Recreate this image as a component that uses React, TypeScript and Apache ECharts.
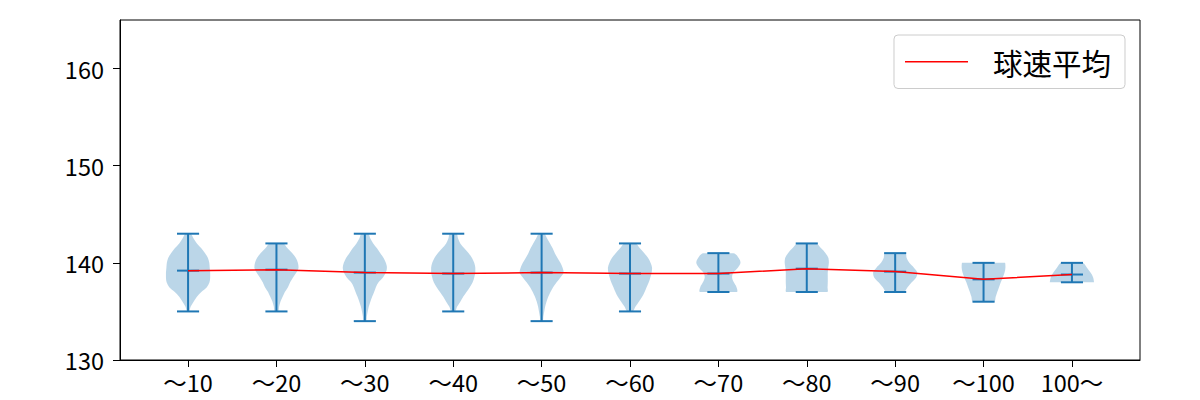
import React, { useEffect, useRef } from "react";
import * as echarts from "echarts";

const categories = ["～10", "～20", "～30", "～40", "～50", "～60", "～70", "～80", "～90", "～100", "100～"];
const means = [139.2, 139.3, 139.0, 138.9, 139.0, 138.9, 138.9, 139.4, 139.1, 138.3, 138.8];
const mins = [135, 135, 134, 135, 134, 135, 137, 137, 137, 136, 138];
const maxs = [143, 142, 143, 143, 143, 142, 141, 142, 141, 140, 140];
const yTicks = [130, 140, 150, 160];
const levelStep = 0.5;
// relative violin widths, from min to max in 0.5 km/h steps
const dens1 = [0.05, 0.12, 0.25, 0.4, 0.6, 0.85, 0.97, 1.0, 1.0, 0.98, 0.96, 0.9, 0.77, 0.6, 0.4, 0.25, 0.12];
const dens2 = [0.08, 0.12, 0.18, 0.28, 0.38, 0.52, 0.62, 0.75, 0.9, 1.0, 0.97, 0.88, 0.72, 0.5, 0.3];
const dens3 = [0.06, 0.09, 0.13, 0.18, 0.25, 0.33, 0.42, 0.5, 0.62, 0.82, 0.95, 1.0, 0.95, 0.85, 0.7, 0.55, 0.38, 0.25, 0.15];
const dens4 = [0.08, 0.18, 0.32, 0.45, 0.6, 0.75, 0.88, 0.95, 1.0, 1.0, 0.95, 0.85, 0.7, 0.5, 0.32, 0.22, 0.15];
const dens5 = [0.05, 0.08, 0.12, 0.16, 0.22, 0.3, 0.4, 0.52, 0.68, 0.85, 1.0, 0.95, 0.85, 0.72, 0.6, 0.5, 0.38, 0.25, 0.12];
const dens6 = [0.12, 0.25, 0.4, 0.55, 0.66, 0.75, 0.85, 0.92, 0.98, 1.0, 0.93, 0.82, 0.65, 0.45, 0.25];
const dens7 = [0.83, 0.82, 0.7, 0.62, 0.68, 0.88, 1.0, 0.92, 0.68];
const dens8 = [0.92, 0.94, 0.95, 0.95, 0.95, 0.97, 1.0, 0.98, 0.85, 0.65, 0.42];
const dens9 = [0.38, 0.56, 0.75, 0.95, 1.0, 0.85, 0.64, 0.52, 0.46];
const dens10 = [0.48, 0.55, 0.62, 0.7, 0.78, 0.87, 0.95, 0.99, 0.97];
const dens11 = [1.0, 0.96, 0.84, 0.68, 0.48];
const densities = [dens1, dens2, dens3, dens4, dens5, dens6, dens7, dens8, dens9, dens10, dens11];

const FONT = "'Noto Sans CJK JP', 'Noto Sans', sans-serif";
const BLUE = "#1f77b4";

export default function App() {
  const ref = useRef<HTMLDivElement>(null);
  useEffect(() => {
    document.body.style.margin = "0";
    if (!ref.current) return;
    const chart = echarts.init(ref.current, undefined, { renderer: "svg" });
    const positions = categories.map((_, i) => i + 1);
    const violinData = categories.map((_, i) => [i + 1, means[i]]);
    const option: any = {
      animation: false,
      textStyle: { fontFamily: FONT },
      grid: {
        left: 120,
        right: 60,
        top: 20,
        bottom: 40,
        show: true,
        borderColor: "#000",
        borderWidth: 1,
        backgroundColor: "transparent",
      },
      legend: {
        right: 75,
        top: 35,
        data: ["球速平均"],
        icon: "rect",
        itemWidth: 63,
        itemHeight: 1.5,
        padding: [12, 14, 12, 11],
        borderColor: "#cccccc",
        borderWidth: 1,
        borderRadius: 4,
        backgroundColor: "#fff",
        textStyle: { fontSize: 29.5, color: "#000", fontFamily: FONT, padding: [0, 0, 0, 20] },
      },
      xAxis: {
        type: "value",
        min: 0.23,
        max: 11.77,
        axisLine: { show: true, onZero: false, lineStyle: { color: "#000", width: 1 } },
        axisTick: { show: true, length: 7, customValues: positions, lineStyle: { color: "#000" } },
        axisLabel: {
          customValues: positions,
          formatter: (v: number) => categories[Math.round(v) - 1] ?? "",
          color: "#000",
          fontSize: 23.5,
          fontFamily: FONT,
          margin: 10,
        },
        splitLine: { show: false },
      },
      yAxis: {
        type: "value",
        min: 130,
        max: 165,
        axisLine: { show: true, lineStyle: { color: "#000", width: 1 } },
        axisTick: { show: true, length: 7, customValues: yTicks, lineStyle: { color: "#000" } },
        axisLabel: {
          customValues: yTicks,
          color: "#000",
          fontSize: 23.5,
          fontFamily: FONT,
          margin: 16,
        },
        splitLine: { show: false },
      },
      series: [
        {
          type: "custom",
          name: "violin",
          z: 2,
          data: violinData,
          encode: { x: 0, y: 1 },
          renderItem: (params: any, api: any) => {
            const i = params.dataIndex;
            const c = i + 1;
            const lo = mins[i];
            const hi = maxs[i];
            const dens = densities[i];
            const left: number[][] = [];
            const right: number[][] = [];
            dens.forEach((w, k) => {
              const v = lo + k * levelStep;
              left.push(api.coord([c - w * 0.25, v]));
              right.push(api.coord([c + w * 0.25, v]));
            });
            const pts = left.concat(right.slice().reverse());
            let minX = Infinity, minY = Infinity, maxX = -Infinity, maxY = -Infinity;
            pts.forEach((p) => {
              minX = Math.min(minX, p[0]);
              maxX = Math.max(maxX, p[0]);
              minY = Math.min(minY, p[1]);
              maxY = Math.max(maxY, p[1]);
            });
            const top = api.coord([c, hi]);
            const bot = api.coord([c, lo]);
            const mid = api.coord([c, means[i]]);
            const half = api.size([0.125, 0])[0];
            const ls = { stroke: BLUE, lineWidth: 2 };
            return {
              type: "group",
              children: [
                {
                  type: "polygon",
                  shape: {
                    points: pts,
                    smooth: 0.35,
                    smoothConstraint: [
                      [minX, minY],
                      [maxX, maxY],
                    ],
                  },
                  style: { fill: "rgba(31,119,180,0.3)" },
                },
                { type: "line", shape: { x1: top[0], y1: top[1], x2: bot[0], y2: bot[1] }, style: ls },
                { type: "line", shape: { x1: top[0] - half, y1: top[1], x2: top[0] + half, y2: top[1] }, style: ls },
                { type: "line", shape: { x1: bot[0] - half, y1: bot[1], x2: bot[0] + half, y2: bot[1] }, style: ls },
                { type: "line", shape: { x1: mid[0] - half, y1: mid[1], x2: mid[0] + half, y2: mid[1] }, style: ls },
              ],
            };
          },
        },
        {
          type: "line",
          name: "球速平均",
          z: 3,
          data: violinData,
          symbol: "none",
          lineStyle: { color: "red", width: 1.5 },
          itemStyle: { color: "red" },
        },
      ],
    };
    chart.setOption(option);
    return () => chart.dispose();
  }, []);
  return <div ref={ref} style={{ width: 1200, height: 400 }} />;
}
